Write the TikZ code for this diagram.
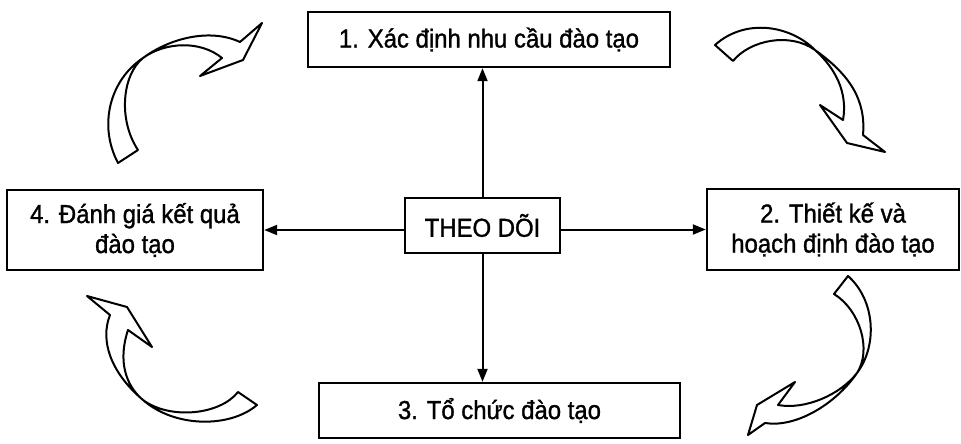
\documentclass[tikz,border=0pt]{standalone}
\usepackage{fontspec}
\setmainfont{Liberation Sans}[FakeStretch=0.92, FakeBold=1.2]
\usetikzlibrary{arrows.meta}
\begin{document}
\begin{tikzpicture}[x=1pt,y=-1pt,
  box/.style={draw, line width=2.4pt, fill=white, align=center, inner sep=0pt,
              font=\fontsize{26}{30}\selectfont},
  conn/.style={line width=2pt, -{Triangle[length=13pt,width=10pt]}},
  blk/.style={draw, line width=2pt, fill=white, line join=round}]
% canvas
\fill[white] (0,0) rectangle (961,444);
\path[use as bounding box] (0,0) rectangle (961,444);

% boxes
\node[box, minimum width=362pt, minimum height=55pt] (b1) at (489,39.5) {1. Xác định nhu cầu đào tạo};
\node[box, minimum width=155pt, minimum height=55pt] (mon) at (482.5,225.5) {THEO DÕI};
\node[box, minimum width=256pt, minimum height=80pt] (b4) at (135,230) {4. Đánh giá kết quả\\đào tạo};
\node[box, minimum width=252pt, minimum height=81pt] (b2) at (833,229.5) {2. Thiết kế và\\hoạch định đào tạo};
\node[box, minimum width=361pt, minimum height=55pt] (b3) at (499.5,410.5) {3. Tổ chức đào tạo};

% straight connectors from the centre
\draw[conn] (mon.north) -- (b1.south -| mon.north);
\draw[conn] (mon.south) -- (b3.north -| mon.south);
\draw[conn] (b4.east -| mon.west) -- (b4.east);
\draw[conn] (b2.west -| mon.east) -- (b2.west);

% curved block arrows, each a twisted ribbon with a head
% top left: 4 -> 1
\draw[blk] (118,163) .. controls (98,125) and (110,80) .. (143,58)
  .. controls (170,38) and (210,28) .. (240,42)
  -- (262,23) -- (243,60) -- (200,76) -- (222,58)
  .. controls (200,40) and (165,42) .. (143,58)
  .. controls (122,75) and (118,120) .. (138,150) -- cycle;
% top right: 1 -> 2
\draw[blk] (715,45) .. controls (745,18) and (790,25) .. (815,50)
  .. controls (850,75) and (866,100) .. (863,135)
  -- (885,152) -- (847,143) -- (820,105) -- (843,120)
  .. controls (848,92) and (835,68) .. (815,50)
  .. controls (790,32) and (750,40) .. (733,61) -- cycle;
% bottom right: 2 -> 3
\draw[blk] (848,276) .. controls (875,300) and (878,345) .. (857,373)
  .. controls (835,405) and (795,428) .. (765,423)
  -- (748,435) -- (757,405) -- (795,382) -- (778,405)
  .. controls (805,410) and (840,395) .. (857,373)
  .. controls (872,350) and (860,310) .. (834,294) -- cycle;
% bottom left: 3 -> 4
\draw[blk] (257,405) .. controls (230,428) and (175,428) .. (143,400)
  .. controls (110,372) and (100,340) .. (110,315)
  -- (87,296) -- (127,307) -- (152,347) -- (128,330)
  .. controls (118,360) and (125,385) .. (143,400)
  .. controls (170,420) and (220,415) .. (238,392) -- cycle;
\end{tikzpicture}
\end{document}
